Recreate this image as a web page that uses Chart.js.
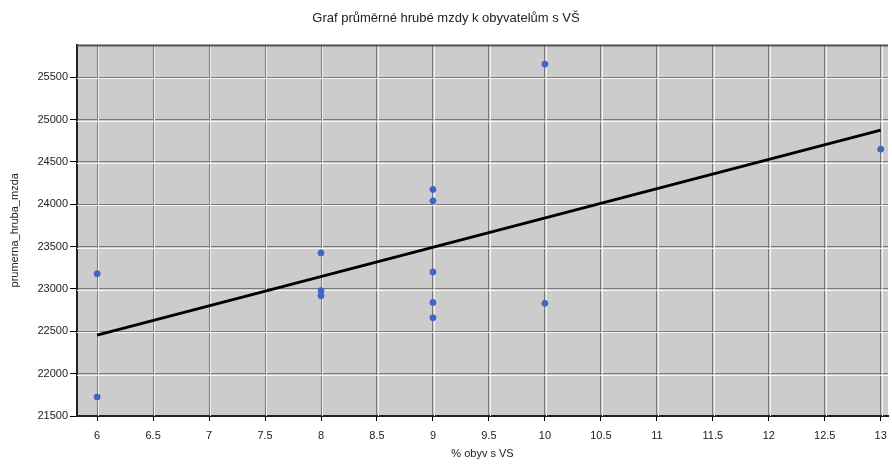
<!DOCTYPE html>
<html>
<head>
<meta charset="utf-8">
<script src="https://cdn.jsdelivr.net/npm/chart.js@4/dist/chart.umd.min.js"></script>
<style>
  html, body { margin: 0; padding: 0; background: #fff; }
  #wrap { width: 892px; height: 466px; }
</style>
</head>
<body>
<div id="wrap"><canvas id="chart" width="892" height="466"></canvas></div>
<script>
// hodnoty
const obyvVS  = [6, 6, 8, 8, 8, 9, 9, 9, 9, 9, 10, 10, 13];
const mzda    = [23180, 21725, 23425, 22980, 22920, 24175, 24040, 23200, 22840, 22660, 22830, 25655, 24650];
const trendX  = [6, 13];
const trendY  = [22455, 24875];
const xTicks  = [6, 6.5, 7, 7.5, 8, 8.5, 9, 9.5, 10, 10.5, 11, 11.5, 12, 12.5, 13];
const yTicks  = [21500, 22000, 22500, 23000, 23500, 24000, 24500, 25000, 25500];

Chart.defaults.font.family = "'Liberation Sans', Arial, sans-serif";
Chart.defaults.color = "#222";

const bodyData  = obyvVS.map((x, i) => ({ x, y: mzda[i] }));
const trendData = trendX.map((x, i) => ({ x, y: trendY[i] }));

// pozadí grafu + bílé linky vedle mřížky + horní okraj
const plotBg = {
  id: 'plotBg',
  beforeDraw(chart) {
    const { ctx, chartArea: a } = chart;
    ctx.save();
    ctx.fillStyle = '#cccccc';
    ctx.fillRect(a.left, a.top, a.right - a.left, a.bottom - a.top);
    ctx.restore();
  },
  beforeDatasetsDraw(chart) {
    const { ctx, chartArea: a, scales } = chart;
    ctx.save();
    ctx.strokeStyle = '#f4f4f4';
    ctx.lineWidth = 1;
    ctx.beginPath();
    xTicks.forEach(v => {
      const px = Math.round(scales.x.getPixelForValue(v)) + 1.5;
      ctx.moveTo(px, a.top); ctx.lineTo(px, a.bottom);
    });
    yTicks.forEach(v => {
      if (v === yTicks[0]) return;
      const py = Math.round(scales.y.getPixelForValue(v)) + 1.5;
      ctx.moveTo(a.left, py); ctx.lineTo(a.right, py);
    });
    ctx.stroke();
    ctx.strokeStyle = '#555';
    ctx.lineWidth = 2;
    ctx.beginPath();
    ctx.moveTo(a.left, a.top + 1); ctx.lineTo(a.right, a.top + 1);
    ctx.stroke();
    ctx.restore();
  }
};

new Chart(document.getElementById('chart').getContext('2d'), {
  type: 'scatter',
  data: {
    datasets: [
      { label: 'trend', data: trendData, showLine: true, borderColor: '#000', borderWidth: 3,
        pointRadius: 0, fill: false, order: 2 },
      { label: 'mzda', data: bodyData, backgroundColor: '#3d66c6', borderColor: '#3d66c6',
        pointRadius: 3, pointHoverRadius: 3, order: 1 }
    ]
  },
  plugins: [plotBg],
  options: {
    responsive: false,
    animation: false,
    layout: { padding: { left: 0, right: 0, top: 0, bottom: 0 } },
    plugins: {
      legend: { display: false },
      tooltip: { enabled: false },
      title: {
        display: true,
        text: 'Graf průměrné hrubé mzdy k obyvatelům s VŠ',
        color: '#222',
        font: { size: 13, weight: 'normal' },
        padding: { top: 11, bottom: 18 }
      }
    },
    scales: {
      x: {
        type: 'linear',
        min: 5.82, max: 13.065,
        afterBuildTicks: s => { s.ticks = xTicks.map(v => ({ value: v })); },
        afterFit: s => { s.height = 50; s.paddingLeft = 0; s.paddingRight = 0; },
        grid: { color: '#7a7a7a', lineWidth: 1, tickColor: '#000', tickLength: 5 },
        border: { color: '#222', width: 2 },
        ticks: { font: { size: 11 }, color: '#222', padding: 8, maxRotation: 0, autoSkip: false,
                 callback: v => String(v) },
        title: { display: true, text: '% obyv s VS', color: '#222', font: { size: 11 },
                 padding: { top: 0, bottom: 5 } }
      },
      y: {
        type: 'linear',
        min: 21500, max: 25885,
        afterBuildTicks: s => { s.ticks = yTicks.map(v => ({ value: v })); },
        afterFit: s => { s.width = 77; s.paddingTop = 0; s.paddingBottom = 0; },
        grid: { color: '#7a7a7a', lineWidth: 1, tickColor: '#000', tickLength: 7 },
        border: { color: '#222', width: 2 },
        ticks: { font: { size: 11 }, color: '#222', padding: 2, autoSkip: false,
                 callback: v => String(v) },
        title: { display: true, text: 'prumerna_hruba_mzda', color: '#222', font: { size: 11 },
                 padding: { top: 8, bottom: 0 } }
      }
    }
  }
});
</script>
</body>
</html>
